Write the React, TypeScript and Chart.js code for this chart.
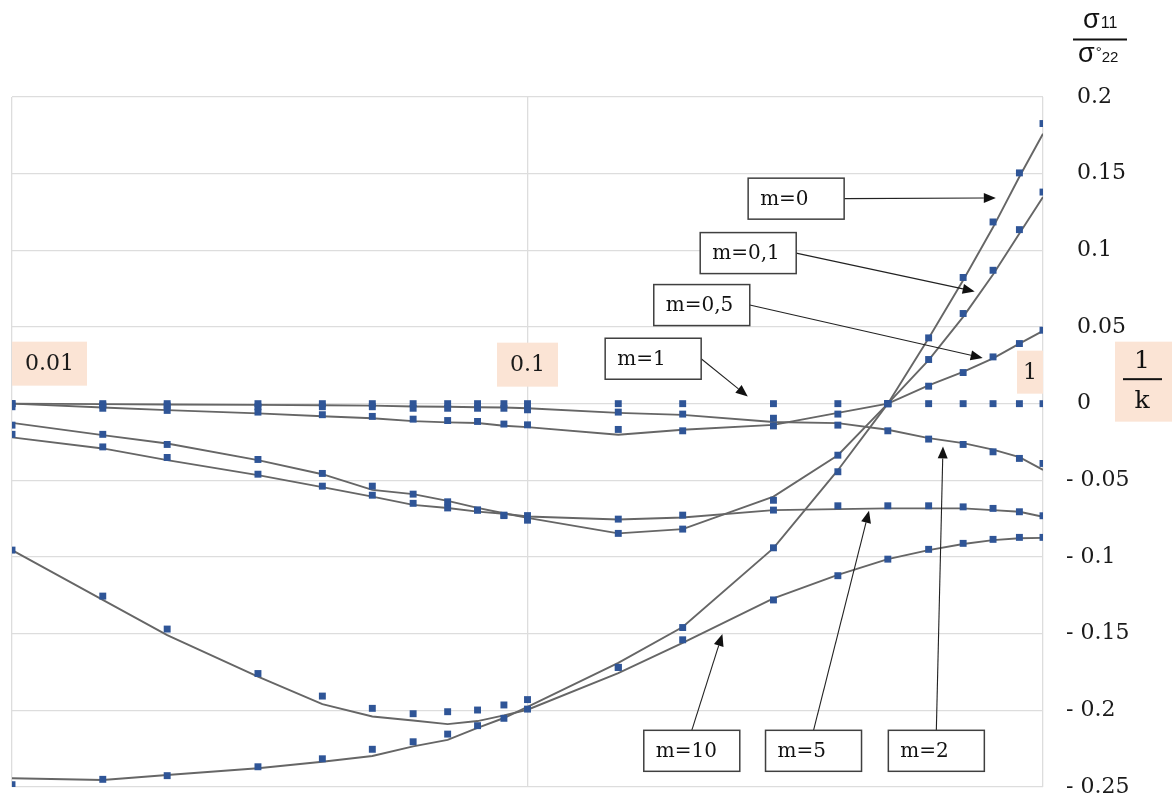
import React, { useEffect, useRef } from "react";
import { Chart, registerables } from "chart.js";

Chart.register(...registerables);

// ---------- data ----------
const X_VALUES = [0.01, 0.015, 0.02, 0.03, 0.04, 0.05, 0.06, 0.07, 0.08, 0.09, 0.1, 0.15, 0.2, 0.3, 0.4, 0.5, 0.6, 0.7, 0.8, 0.9, 1];

// computed points (markers)
const PTS_M0 = [-0.2485, -0.245, -0.2426, -0.2368, -0.2316, -0.2254, -0.2205, -0.2155, -0.21, -0.2052, -0.1992, -0.172, -0.146, -0.094, -0.0444, 0, 0.0429, 0.0823, 0.1185, 0.1505, 0.1827];
const PTS_M01 = [-0.014, -0.02, -0.0266, -0.0364, -0.0455, -0.0538, -0.059, -0.064, -0.0694, -0.0727, -0.076, -0.0846, -0.0818, -0.063, -0.0336, 0, 0.0288, 0.0588, 0.087, 0.1135, 0.138];
const PTS_M05 = [-0.002, -0.003, -0.0044, -0.0055, -0.0072, -0.0083, -0.0101, -0.011, -0.0116, -0.0133, -0.0138, -0.0168, -0.0177, -0.0095, -0.0068, 0, 0.0114, 0.0203, 0.0305, 0.0392, 0.0479];
const PTS_M1 = [0, 0, 0, 0, 0, 0, 0, 0, 0, 0, 0, 0, 0, 0, 0, 0, 0, 0, 0, 0, 0];
const PTS_M2 = [0, -0.001, -0.0015, -0.002, -0.002, -0.002, -0.003, -0.003, -0.003, -0.003, -0.004, -0.0055, -0.0068, -0.0145, -0.014, -0.0177, -0.0231, -0.0266, -0.0314, -0.0357, -0.039];
const PTS_M5 = [-0.02, -0.0282, -0.0351, -0.046, -0.0538, -0.0597, -0.065, -0.068, -0.0694, -0.073, -0.073, -0.0753, -0.0727, -0.0694, -0.0666, -0.0666, -0.0666, -0.0673, -0.0683, -0.0705, -0.0731];
const PTS_M10 = [-0.0955, -0.1255, -0.147, -0.176, -0.1907, -0.1987, -0.2022, -0.2009, -0.1998, -0.1965, -0.193, -0.172, -0.154, -0.128, -0.1122, -0.1014, -0.095, -0.0911, -0.0885, -0.0872, -0.0872];

// fitted curves (lines)
const LINE_M0 = [-0.2443, -0.2454, -0.2422, -0.2378, -0.2335, -0.2298, -0.2235, -0.2193, -0.2115, -0.205, -0.1978, -0.169, -0.1457, -0.0942, -0.0434, 0, 0.0427, 0.0805, 0.115, 0.148, 0.176];
const LINE_M01 = [-0.0125, -0.0205, -0.026, -0.0368, -0.046, -0.0562, -0.059, -0.0634, -0.068, -0.0715, -0.0745, -0.0846, -0.0818, -0.0606, -0.0336, 0, 0.0284, 0.0566, 0.0842, 0.111, 0.1348];
const LINE_M05 = [0, -0.0025, -0.0042, -0.0063, -0.0082, -0.0095, -0.0114, -0.0122, -0.0126, -0.0144, -0.0153, -0.0203, -0.017, -0.0138, -0.006, 0, 0.012, 0.0207, 0.0295, 0.0392, 0.0475];
const LINE_M2 = [0, -0.0003, -0.0005, -0.0008, -0.001, -0.0013, -0.0018, -0.002, -0.0023, -0.0025, -0.003, -0.006, -0.0073, -0.012, -0.0127, -0.017, -0.0225, -0.0257, -0.03, -0.0349, -0.0432];
const LINE_M5 = [-0.022, -0.0292, -0.0368, -0.0466, -0.0544, -0.0606, -0.066, -0.068, -0.0704, -0.0718, -0.0736, -0.0755, -0.0742, -0.0694, -0.0688, -0.0683, -0.0683, -0.0683, -0.0694, -0.0705, -0.0738];
const LINE_M10 = [-0.0955, -0.128, -0.151, -0.178, -0.196, -0.204, -0.2066, -0.209, -0.207, -0.2033, -0.1996, -0.1757, -0.156, -0.127, -0.1117, -0.1014, -0.0955, -0.0915, -0.089, -0.0878, -0.0875];

// axes
const X_TICK_VALUES = [0.01, 0.1, 1];
const X_TICK_LABELS = ["0.01", "0.1", "1"];
const Y_TICK_VALUES = [-0.25, -0.2, -0.15, -0.1, -0.05, 0, 0.05, 0.1, 0.15, 0.2];
const Y_TICK_LABELS = ["- 0.25", "- 0.2", "- 0.15", "- 0.1", "- 0.05", "\u20020", "\u20020.05", "\u20020.1", "\u20020.15", "\u20020.2"];

// callout labels (data coordinates)
const ANN_TEXT = ["m=0", "m=0,1", "m=0,5", "m=1", "m=10", "m=5", "m=2"];
const ANN_BOX_X = [0.332, 0.268, 0.2178, 0.1753, 0.2083, 0.3588, 0.621];
const ANN_BOX_Y = [0.1337, 0.0982, 0.0643, 0.0293, -0.2264, -0.2264, -0.2264];
const ANN_TIP_X = [0.81, 0.737, 0.7638, 0.2675, 0.2388, 0.4597, 0.6397];
const ANN_TIP_Y = [0.1342, 0.0732, 0.0298, 0.0047, -0.1502, -0.0699, -0.0279];
const ANN_FROM = ["right", "right", "right", "right", "top", "top", "top"];

// ---------- styles ----------
const MARKER_COLOR = "#2f5597";
const LINE_COLOR = "#666666";
const GRID_COLOR = "#dddddd";
const PEACH = "#fbe4d5";
const SERIF = "'DejaVu Serif', 'Liberation Serif', serif";
const BOX_W = 96;
const BOX_H = 41;
const X_BOX_PAD = [13, 13, 6];
const X_BOX_RAISE = [62, 61, 53];
const X_BOX_H = [44, 44, 43];

function drawArrow(ctx: CanvasRenderingContext2D, x0: number, y0: number, x1: number, y1: number) {
  const ang = Math.atan2(y1 - y0, x1 - x0);
  const L = 12;
  const W = 5;
  const bx = x1 - L * Math.cos(ang);
  const by = y1 - L * Math.sin(ang);
  ctx.beginPath();
  ctx.moveTo(x0, y0);
  ctx.lineTo(bx, by);
  ctx.stroke();
  ctx.beginPath();
  ctx.moveTo(x1, y1);
  ctx.lineTo(bx + W * Math.sin(ang), by - W * Math.cos(ang));
  ctx.lineTo(bx - W * Math.sin(ang), by + W * Math.cos(ang));
  ctx.closePath();
  ctx.fill();
}

const decorPlugin = {
  id: "decor",
  afterDatasetsDraw(chart: any) {
    const ctx: CanvasRenderingContext2D = chart.ctx;
    const xs = chart.scales.x;
    const ys = chart.scales.y;
    const zero = ys.getPixelForValue(0);
    ctx.save();
    // x tick label boxes
    ctx.font = `22px ${SERIF}`;
    ctx.textBaseline = "middle";
    X_TICK_VALUES.forEach((v, i) => {
      const px = xs.getPixelForValue(v);
      const tw = ctx.measureText(X_TICK_LABELS[i]).width;
      const w = tw + 2 * X_BOX_PAD[i];
      let left = px - w / 2;
      if (i === 0) left = px;
      if (i === X_TICK_VALUES.length - 1) left = px - w;
      const top = zero - X_BOX_RAISE[i];
      ctx.fillStyle = PEACH;
      ctx.fillRect(left, top, w, X_BOX_H[i]);
      ctx.fillStyle = "#1a1a1a";
      ctx.textAlign = "center";
      ctx.fillText(X_TICK_LABELS[i], left + w / 2, top + X_BOX_H[i] / 2 + 1);
    });

    // callouts
    ctx.font = `20px ${SERIF}`;
    ctx.textAlign = "left";
    ANN_TEXT.forEach((t, i) => {
      const cx = xs.getPixelForValue(ANN_BOX_X[i]);
      const cy = ys.getPixelForValue(ANN_BOX_Y[i]);
      const tx = xs.getPixelForValue(ANN_TIP_X[i]);
      const ty = ys.getPixelForValue(ANN_TIP_Y[i]);
      ctx.strokeStyle = "#222";
      ctx.fillStyle = "#111";
      ctx.lineWidth = 1.1;
      if (ANN_FROM[i] === "right") drawArrow(ctx, cx + BOX_W / 2, cy, tx, ty);
      else drawArrow(ctx, cx, cy - BOX_H / 2, tx, ty);
      ctx.fillStyle = "#ffffff";
      ctx.fillRect(cx - BOX_W / 2, cy - BOX_H / 2, BOX_W, BOX_H);
      ctx.strokeStyle = "#404040";
      ctx.lineWidth = 1.5;
      ctx.strokeRect(cx - BOX_W / 2, cy - BOX_H / 2, BOX_W, BOX_H);
      ctx.fillStyle = "#111";
      ctx.fillText(t, cx - BOX_W / 2 + 12, cy + 1);
    });
    ctx.restore();
  },
  afterDraw(chart: any) {
    const ctx: CanvasRenderingContext2D = chart.ctx;
    const area = chart.chartArea;
    const ys = chart.scales.y;
    const zero = ys.getPixelForValue(0);
    const r = area.right;
    ctx.save();
    // y-axis title: sigma11 / sigma°22
    ctx.fillStyle = "#111";
    ctx.textBaseline = "alphabetic";
    ctx.textAlign = "left";
    ctx.font = "27px 'Liberation Sans', 'DejaVu Sans', sans-serif";
    ctx.fillText("σ", r + 40, 28);
    let w = ctx.measureText("σ").width;
    ctx.font = "16px 'Liberation Sans', 'DejaVu Sans', sans-serif";
    ctx.fillText("11", r + 40 + w + 1, 28);
    ctx.fillRect(r + 30, area.top - 58.5, 54, 2);
    ctx.font = "27px 'Liberation Sans', 'DejaVu Sans', sans-serif";
    ctx.fillText("σ", r + 35, 62);
    w = ctx.measureText("σ").width;
    ctx.font = "15px 'Liberation Sans', 'DejaVu Sans', sans-serif";
    ctx.fillText("°", r + 35 + w + 1, 57);
    ctx.fillText("22", r + 35 + w + 7, 62);

    // x-axis title 1/k
    ctx.fillStyle = PEACH;
    ctx.fillRect(r + 72, zero - 62, 60, 80);
    ctx.fillStyle = "#111";
    ctx.textAlign = "center";
    ctx.textBaseline = "middle";
    ctx.font = `25px ${SERIF}`;
    ctx.fillText("1", r + 99, zero - 42);
    ctx.fillRect(r + 80, zero - 25.5, 39, 2);
    ctx.fillText("k", r + 99, zero - 2);
    ctx.restore();
  },
};

export default function App() {
  const ref = useRef<HTMLCanvasElement>(null);

  useEffect(() => {
    const canvas = ref.current;
    if (!canvas) return;

    const lines = [LINE_M0, LINE_M01, LINE_M05, LINE_M2, LINE_M5, LINE_M10];
    const pts = [PTS_M0, PTS_M01, PTS_M05, PTS_M1, PTS_M2, PTS_M5, PTS_M10];
    const ptNames = ["m=0", "m=0,1", "m=0,5", "m=1", "m=2", "m=5", "m=10"];
    const lineNames = ["m=0", "m=0,1", "m=0,5", "m=2", "m=5", "m=10"];

    const datasets: any[] = [];
    pts.forEach((arr, k) => {
      datasets.push({
        label: ptNames[k] + " points",
        data: X_VALUES.map((x, i) => ({ x, y: arr[i] })),
        showLine: false,
        pointStyle: "rect",
        pointRadius: 4.9,
        pointBackgroundColor: MARKER_COLOR,
        pointBorderColor: MARKER_COLOR,
        pointBorderWidth: 0,
        order: 1,
      });
    });
    lines.forEach((arr, k) => {
      datasets.push({
        label: lineNames[k] + " curve",
        data: X_VALUES.map((x, i) => ({ x, y: arr[i] })),
        showLine: true,
        borderColor: LINE_COLOR,
        borderWidth: 1.9,
        pointRadius: 0,
        tension: 0,
        fill: false,
        order: 2,
      });
    });

    const chart = new Chart(canvas, {
      type: "scatter",
      data: { datasets },
      plugins: [decorPlugin],
      options: {
        animation: false,
        responsive: false,
        maintainAspectRatio: false,
        layout: { padding: { left: 12, top: 97, right: 0, bottom: 14 } },
        plugins: { legend: { display: false }, tooltip: { enabled: false } },
        scales: {
          x: {
            type: "logarithmic",
            min: 0.01,
            max: 1,
            afterBuildTicks: (s: any) => {
              s.ticks = X_TICK_VALUES.map((v) => ({ value: v }));
            },
            afterFit: (s: any) => {
              s.height = 0;
            },
            ticks: { display: false },
            grid: { color: GRID_COLOR, lineWidth: 1.3, drawTicks: false },
            border: { display: false },
          },
          y: {
            type: "linear",
            position: "right",
            min: -0.25,
            max: 0.2,
            afterBuildTicks: (s: any) => {
              s.ticks = Y_TICK_VALUES.map((v) => ({ value: v }));
            },
            afterFit: (s: any) => {
              s.width = 129;
            },
            ticks: {
              callback: (_v: any, i: number) => Y_TICK_LABELS[i],
              font: { family: "DejaVu Serif", size: 22 },
              color: "#1a1a1a",
              padding: 0,
              crossAlign: "near",
            },
            grid: {
              color: GRID_COLOR,
              lineWidth: 1.3,
              drawTicks: true,
              tickLength: 23,
              tickColor: "rgba(0,0,0,0)",
            },
            border: { display: false },
          },
        },
      } as any,
    });
    return () => chart.destroy();
  }, []);

  return (
    <div style={{ position: "absolute", left: 0, top: 0, width: 1172, height: 801, background: "#ffffff" }}>
      <canvas ref={ref} width={1172} height={801} style={{ display: "block", width: 1172, height: 801 }} />
    </div>
  );
}
